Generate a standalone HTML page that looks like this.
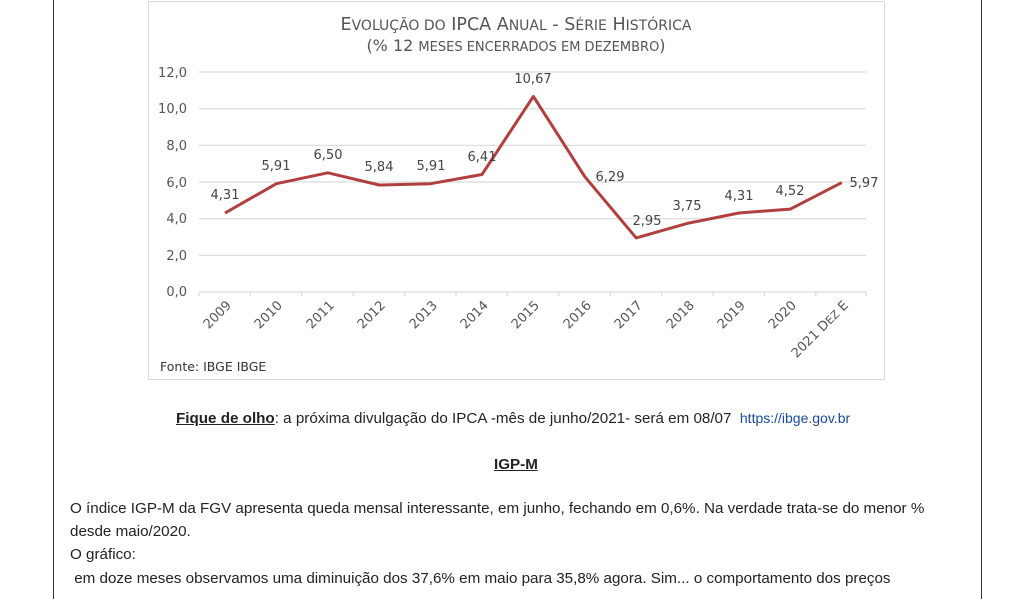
<!DOCTYPE html>
<html><head><meta charset="utf-8"><style>
body{margin:0;width:1024px;height:599px;background:#fff;position:relative;overflow:hidden;font-family:"Liberation Sans","DejaVu Sans",sans-serif;color:#222}
.vl{position:absolute;top:0;width:1px;height:599px;background:#333}
.t{position:absolute;font-size:15.2px;white-space:nowrap}
</style></head><body>
<div class="vl" style="left:53px"></div>
<div class="vl" style="left:981px"></div>
<svg width="1024" height="400" style="position:absolute;left:0;top:0" font-family="DejaVu Sans, sans-serif">
<rect x="148.5" y="1.5" width="736" height="378" fill="#fff" stroke="#d9d9d9"/>
<text x="516" y="30" text-anchor="middle" font-size="17.5" fill="#555">E<tspan font-size="14">VOLUÇÃO DO</tspan> IPCA A<tspan font-size="14">NUAL</tspan> - S<tspan font-size="14">ÉRIE</tspan> H<tspan font-size="14">ISTÓRICA</tspan></text>
<text x="516" y="51" text-anchor="middle" font-size="16" fill="#555">(% 12 <tspan font-size="13">MESES ENCERRADOS EM DEZEMBRO</tspan>)</text>
<g stroke="#d9d9d9" stroke-width="1.2">
<line x1="199" x2="866" y1="72" y2="72"/><line x1="199" x2="866" y1="108.7" y2="108.7"/><line x1="199" x2="866" y1="145.3" y2="145.3"/><line x1="199" x2="866" y1="182" y2="182"/><line x1="199" x2="866" y1="218.7" y2="218.7"/><line x1="199" x2="866" y1="255.3" y2="255.3"/><line x1="199" x2="866" y1="292" y2="292"/>
<path d="M199 292v4M250.4 292v4M301.8 292v4M353.2 292v4M404.6 292v4M456 292v4M507.4 292v4M558.8 292v4M610.2 292v4M661.6 292v4M713 292v4M764.4 292v4M815.8 292v4M866 292v4"/>
</g>
<g fill="#555" font-size="13" text-anchor="end">
<text x="187" y="77">12,0</text><text x="187" y="113">10,0</text><text x="187" y="150">8,0</text><text x="187" y="187">6,0</text><text x="187" y="223">4,0</text><text x="187" y="260">2,0</text><text x="187" y="296">0,0</text>
</g>
<polyline fill="none" stroke="#b0403f" stroke-width="3" stroke-linejoin="round" points="225,213 276.4,183.7 327.8,172.8 379.2,185 430.6,183.7 482,174.5 533.4,96.4 584.8,176.7 636.2,237.9 687.6,223.3 739,213 790.4,209.1 841.8,182.6"/>
<g fill="#444" font-size="13" text-anchor="middle">
<text x="225" y="199">4,31</text><text x="276" y="170">5,91</text><text x="328" y="159">6,50</text><text x="379" y="171">5,84</text><text x="431" y="170">5,91</text><text x="482" y="161">6,41</text><text x="533" y="83">10,67</text><text x="610" y="181">6,29</text><text x="647" y="225">2,95</text><text x="687" y="210">3,75</text><text x="739" y="200">4,31</text><text x="790" y="195">4,52</text><text x="864" y="187">5,97</text>
</g>
<g fill="#555" font-size="13" text-anchor="end">
<text transform="translate(232,306) rotate(-45)">2009</text>
<text transform="translate(283,306) rotate(-45)">2010</text>
<text transform="translate(335,306) rotate(-45)">2011</text>
<text transform="translate(386,306) rotate(-45)">2012</text>
<text transform="translate(438,306) rotate(-45)">2013</text>
<text transform="translate(489,306) rotate(-45)">2014</text>
<text transform="translate(540,306) rotate(-45)">2015</text>
<text transform="translate(592,306) rotate(-45)">2016</text>
<text transform="translate(643,306) rotate(-45)">2017</text>
<text transform="translate(695,306) rotate(-45)">2018</text>
<text transform="translate(746,306) rotate(-45)">2019</text>
<text transform="translate(797,306) rotate(-45)">2020</text>
<text transform="translate(849,306) rotate(-45)">2021 D<tspan font-size="11">EZ</tspan>  E</text>
</g>
<text x="160" y="371" font-size="12.5" fill="#333">Fonte: IBGE IBGE</text>
</svg>
<div class="t" style="left:176px;top:410px"><b><u>Fique de olho</u></b>: a próxima divulgação do IPCA -mês de junho/2021- será em 08/07 &nbsp;<span style="color:#1a4a9a;font-size:14px">https://ibge.gov.br</span></div>
<div class="t" style="left:494px;top:456px"><b><u>IGP-M</u></b></div>
<div class="t" style="left:70px;top:500px">O índice IGP-M da FGV apresenta queda mensal interessante, em junho, fechando em 0,6%. Na verdade trata-se do menor %</div>
<div class="t" style="left:70px;top:523px">desde maio/2020.</div>
<div class="t" style="left:70px;top:546px">O gráfico:</div>
<div class="t" style="left:70px;top:570px">&nbsp;em doze meses observamos uma diminuição dos 37,6% em maio para 35,8% agora. Sim... o comportamento dos preços</div>
</body></html>
